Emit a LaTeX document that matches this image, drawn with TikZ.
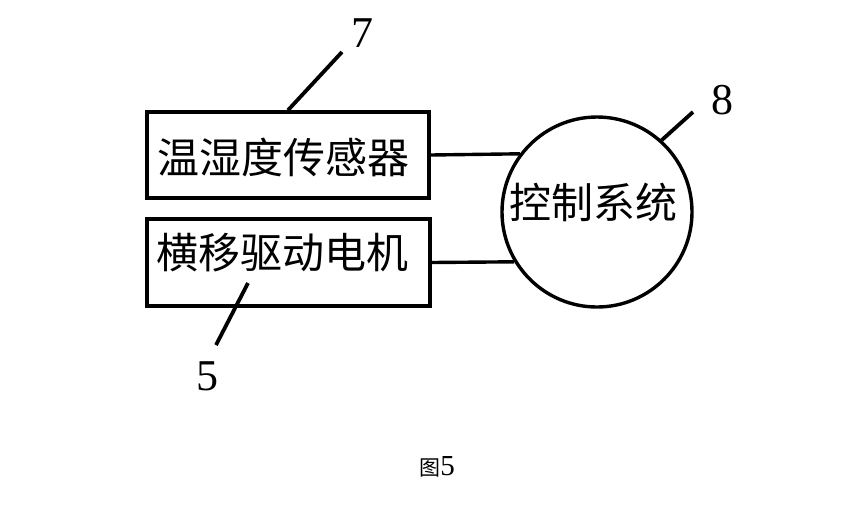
\documentclass[tikz,border=0pt]{standalone}
\usepackage{fontspec}
\setmainfont{Liberation Serif}
\newfontfamily\cjk{Noto Sans CJK SC}
\begin{document}
\begin{tikzpicture}[x=1pt,y=-1pt,
  box/.style={draw,line width=3.6pt,rectangle,inner sep=0pt},
  lead/.style={line width=3.8pt},
  conn/.style={line width=3.4pt},
  bigcjk/.style={font=\cjk\fontsize{42}{50}\selectfont},
  num/.style={font=\fontsize{44}{50}\selectfont,inner sep=0pt}]
\useasboundingbox (0,0) rectangle (866,515);
\node[box,minimum width=282pt,minimum height=86pt] (s1) at (288,155) {};
\node[bigcjk,inner sep=0pt] (t1) at (283,157) {温湿度传感器};
\node[box,minimum width=283pt,minimum height=87pt] (s2) at (288.5,262.5) {};
\node[bigcjk,inner sep=0pt] (t2) at (282,253) {横移驱动电机};
\node[draw,circle,line width=3.4pt,minimum size=190pt,inner sep=0pt] (c) at (597,212) {};
\node[bigcjk,inner sep=0pt] (tc) at (593,202) {控制系统};
\draw[conn] (s1.east) -- (c.143.1);
\draw[conn] (s2.east) -- (c.211.8);
\node[num] (n7) at (362,33) {7};
\coordinate (e7) at (342,52);
\draw[lead] (s1.north) -- (e7);
\node[num] (n8) at (722,100) {8};
\coordinate (e8) at (693,112);
\draw[lead] (c.48) -- (e8);
\node[num] (n5) at (207,376) {5};
\coordinate (b5) at (248,283);
\coordinate (e5) at (216,345);
\draw[lead] (b5) -- (e5);
\node[inner sep=0pt] (cap) at (437,467) {{\cjk\fontsize{21}{24}\selectfont 图}{\fontsize{29}{30}\selectfont 5}};
\end{tikzpicture}
\end{document}
